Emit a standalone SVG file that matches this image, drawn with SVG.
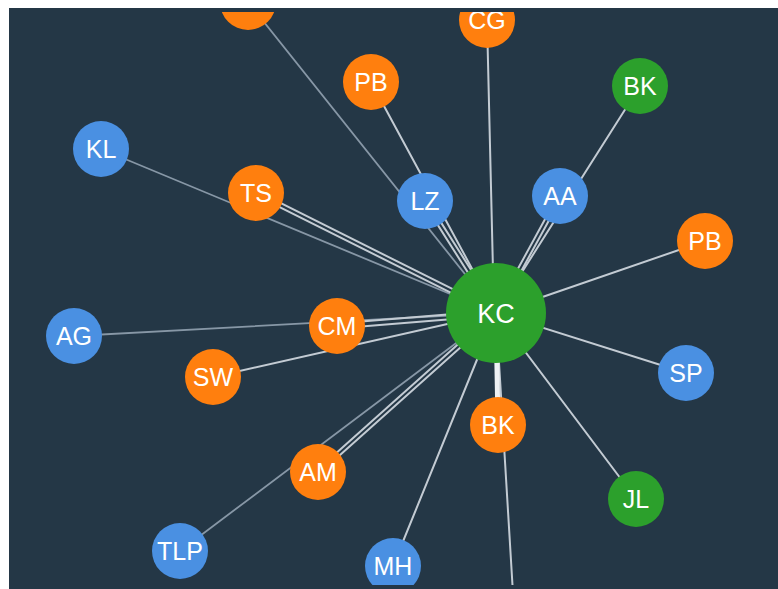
<svg xmlns="http://www.w3.org/2000/svg" width="778" height="589" viewBox="0 0 778 589">
<defs>
<clipPath id="clip"><rect x="9" y="12" width="769" height="573"/></clipPath>
<style>
.bg{fill:#243746}
.e{stroke:#c3cbd3;stroke-width:2;fill:none;stroke-linecap:round}
.t{stroke:#8797a6;stroke-width:1.8}
.w{stroke:#eef1f4;stroke-width:5}
.o{fill:#ff7f0e}
.b{fill:#4a90e2}
.g{fill:#2ca02c}
text{fill:#ffffff;font-family:"Liberation Sans",Arial,Helvetica,sans-serif;font-size:25px;text-anchor:middle}
.big{font-size:27px}
</style>
</defs>
<rect x="0" y="0" width="778" height="589" fill="#ffffff"/>
<rect class="bg" x="9" y="8" width="769" height="581"/>
<g clip-path="url(#clip)">
<g id="connectors">
<line class="e t" x1="248" y1="2" x2="496" y2="313"/>
<line class="e" x1="371" y1="82" x2="496" y2="313"/>
<line class="e" x1="423.3" y1="202.1" x2="494.3" y2="314.1"/>
<line class="e" x1="426.7" y1="199.9" x2="497.7" y2="311.9"/>
<line class="e" x1="487" y1="20" x2="494" y2="313"/>
<line class="e" x1="640" y1="86" x2="496" y2="313"/>
<line class="e" x1="561.75" y1="196.96" x2="497.75" y2="313.96"/>
<line class="e" x1="558.25" y1="195.04" x2="494.25" y2="312.04"/>
<line class="e" x1="705" y1="241" x2="496" y2="313"/>
<line class="e" x1="686" y1="373" x2="496" y2="313"/>
<line class="e" x1="636" y1="499" x2="496" y2="313"/>
<line class="e" x1="496" y1="313" x2="514" y2="610"/>
<line class="e w" x1="498" y1="425" x2="496" y2="313"/>
<line class="e" x1="393" y1="566" x2="496" y2="313"/>
<line class="e" x1="319.3" y1="473.5" x2="497.3" y2="314.5"/>
<line class="e" x1="316.7" y1="470.5" x2="494.7" y2="311.5"/>
<line class="e t" x1="180" y1="551" x2="496" y2="313"/>
<line class="e" x1="213" y1="377" x2="496" y2="313"/>
<line class="e t" x1="74" y1="336" x2="496" y2="313"/>
<line class="e" x1="337" y1="328.5" x2="496" y2="315.5"/>
<line class="e" x1="337" y1="323.5" x2="496" y2="310.5"/>
<line class="e t" x1="101" y1="149" x2="496" y2="313"/>
<line class="e" x1="255.1" y1="194.8" x2="495.1" y2="314.8"/>
<line class="e" x1="256.9" y1="191.2" x2="496.9" y2="311.2"/>
</g>
<g id="n-top"><circle class="o" cx="248" cy="2" r="28"/></g>
<g id="n-CG"><circle class="o" cx="487" cy="20" r="28"/><text x="487" y="29">CG</text></g>
<g id="n-PB1"><circle class="o" cx="371" cy="82" r="28"/><text x="371" y="91">PB</text></g>
<g id="n-BK1"><circle class="g" cx="640" cy="86" r="28"/><text x="640" y="95">BK</text></g>
<g id="n-KL"><circle class="b" cx="101" cy="149" r="28"/><text x="101" y="158">KL</text></g>
<g id="n-TS"><circle class="o" cx="256" cy="193" r="28"/><text x="256" y="202">TS</text></g>
<g id="n-LZ"><circle class="b" cx="425" cy="201" r="28"/><text x="425" y="210">LZ</text></g>
<g id="n-AA"><circle class="b" cx="560" cy="196" r="28"/><text x="560" y="205">AA</text></g>
<g id="n-PB2"><circle class="o" cx="705" cy="241" r="28"/><text x="705" y="250">PB</text></g>
<g id="n-KC"><circle class="g" cx="496" cy="313" r="50"/><text class="big" x="496" y="323">KC</text></g>
<g id="n-AG"><circle class="b" cx="74" cy="336" r="28"/><text x="74" y="345">AG</text></g>
<g id="n-CM"><circle class="o" cx="337" cy="326" r="28"/><text x="337" y="335">CM</text></g>
<g id="n-SW"><circle class="o" cx="213" cy="377" r="28"/><text x="213" y="386">SW</text></g>
<g id="n-SP"><circle class="b" cx="686" cy="373" r="28"/><text x="686" y="382">SP</text></g>
<g id="n-BK2"><circle class="o" cx="498" cy="425" r="28"/><text x="498" y="434">BK</text></g>
<g id="n-AM"><circle class="o" cx="318" cy="472" r="28"/><text x="318" y="481">AM</text></g>
<g id="n-JL"><circle class="g" cx="636" cy="499" r="28"/><text x="636" y="508">JL</text></g>
<g id="n-TLP"><circle class="b" cx="180" cy="551" r="28"/><text x="180" y="560">TLP</text></g>
<g id="n-MH"><circle class="b" cx="393" cy="566" r="28"/><text x="393" y="575">MH</text></g>
</g>
</svg>
